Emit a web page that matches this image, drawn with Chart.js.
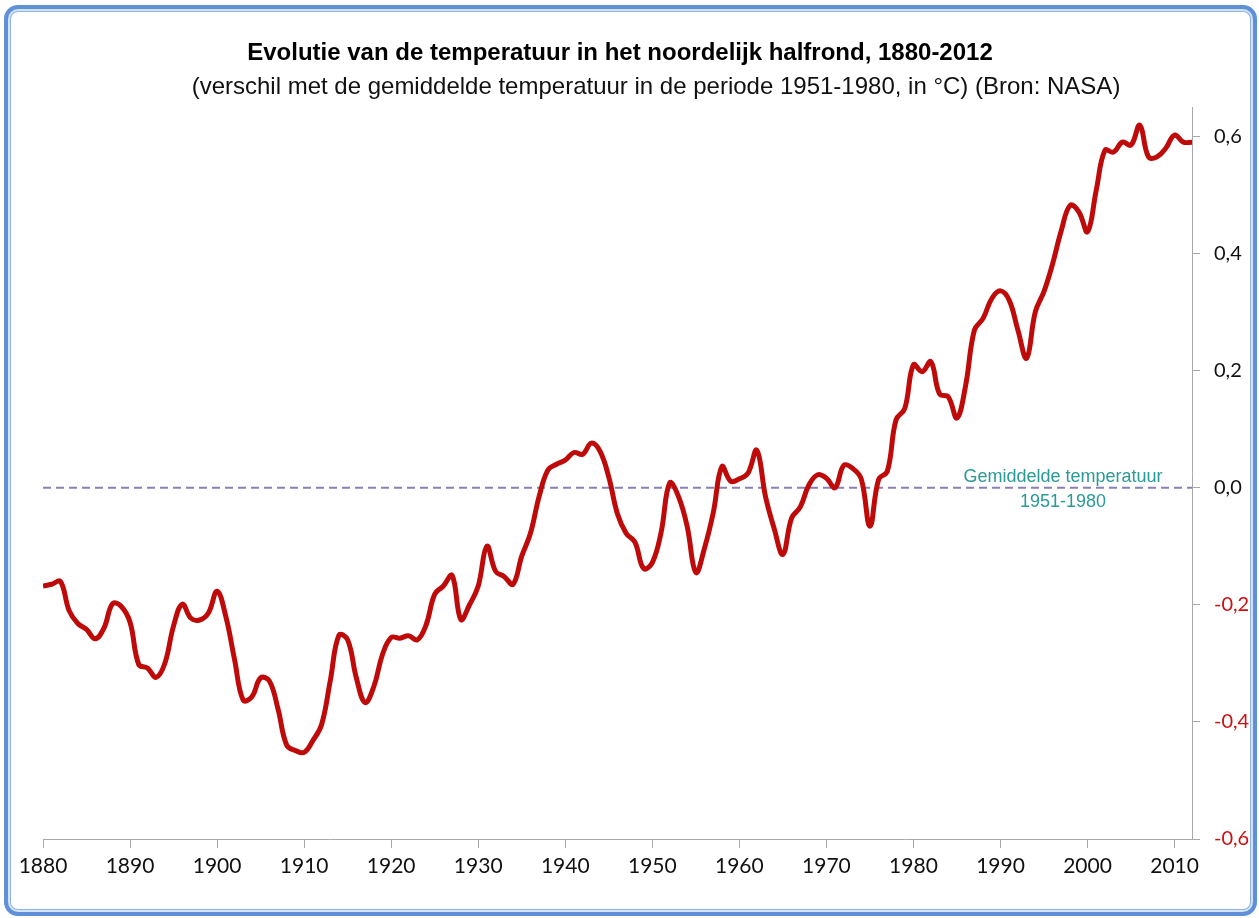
<!DOCTYPE html>
<html>
<head>
<meta charset="utf-8">
<script src="https://cdn.jsdelivr.net/npm/chart.js@4.4.1/dist/chart.umd.min.js"></script>
<style>
  html, body { margin: 0; padding: 0; background: #ffffff; }
  #wrap { position: relative; width: 1259px; height: 918px; overflow: hidden; }
  #c { position: absolute; left: 0; top: 0; }
  #frame {
    position: absolute; left: 4px; top: 5px; width: 1245px; height: 903px;
    border: 4px solid #5f90d8; border-radius: 14px;
    box-shadow: inset 0 0 0 2px #d3e3f7, inset 0 0 0 3px #8fb5e6;
    pointer-events: none;
  }
</style>
</head>
<body>
<div id="wrap">
  <canvas id="c" width="1259" height="918"></canvas>
  <div id="frame"></div>
</div>
<script>
const years = [];
for (let y = 1880; y <= 2012; y++) years.push(y);

const anomalies = [
  -0.168, -0.165, -0.160, -0.210, -0.232, -0.242, -0.258, -0.240, -0.198, -0.203, // 1880-1889
  -0.230, -0.302, -0.308, -0.324, -0.300, -0.236, -0.199, -0.223, -0.226, -0.214, // 1890-1899
  -0.177, -0.220, -0.293, -0.363, -0.357, -0.325, -0.330, -0.378, -0.440, -0.449, // 1900-1909
  -0.452, -0.432, -0.405, -0.330, -0.252, -0.260, -0.325, -0.367, -0.340, -0.285, // 1910-1919
  -0.256, -0.257, -0.253, -0.260, -0.235, -0.182, -0.168, -0.150, -0.225, -0.200, // 1920-1929
  -0.168, -0.100, -0.143, -0.152, -0.165, -0.117, -0.078, -0.015,  0.030,  0.040, // 1930-1939
   0.047,  0.060,  0.057,  0.076,  0.062,  0.018, -0.045, -0.078, -0.093, -0.138, // 1940-1949
  -0.128, -0.077,  0.008, -0.015, -0.066, -0.145, -0.103, -0.043,  0.036,  0.011, // 1950-1959
   0.015,  0.025,  0.064, -0.015, -0.070, -0.114, -0.052, -0.033,  0.005,  0.022, // 1960-1969
   0.016,  0.000,  0.038,  0.033,  0.015, -0.066,  0.014,  0.028,  0.116,  0.135, // 1970-1979
   0.210,  0.198,  0.215,  0.160,  0.155,  0.119,  0.175,  0.269,  0.289,  0.323, // 1980-1989
   0.336,  0.320,  0.269,  0.221,  0.300,  0.335,  0.383,  0.440,  0.482,  0.471, // 1990-1999
   0.437,  0.508,  0.576,  0.573,  0.590,  0.585,  0.619,  0.565,  0.565,  0.580, // 2000-2009
   0.602,  0.590,  0.590                                                          // 2010-2012
];

const baselineYears = [1880, 2012];
const baselineValues = [0, 0];

const xTickValues = [1880, 1890, 1900, 1910, 1920, 1930, 1940, 1950, 1960, 1970, 1980, 1990, 2000, 2010];
const yTickValues = [-0.6, -0.4, -0.2, 0, 0.2, 0.4, 0.6];

const titleText = 'Evolutie van de temperatuur in het noordelijk halfrond, 1880-2012';
const subtitleText = '(verschil met de gemiddelde temperatuur in de periode 1951-1980, in \u00B0C) (Bron: NASA)';
const annotationLines = ['Gemiddelde temperatuur', '1951-1980'];

const textPlugin = {
  id: 'texts',
  afterDraw(chart) {
    const ctx = chart.ctx;
    ctx.save();
    ctx.textAlign = 'center';
    ctx.textBaseline = 'alphabetic';
    ctx.fillStyle = '#000000';
    ctx.font = 'bold 24px "Liberation Sans", Arial, sans-serif';
    ctx.fillText(titleText, 620, 60);
    ctx.fillStyle = '#111111';
    ctx.font = '24px "Liberation Sans", Arial, sans-serif';
    ctx.fillText(subtitleText, 656, 94);
    const y0 = chart.scales.y.getPixelForValue(0);
    ctx.fillStyle = '#2a9a94';
    ctx.font = '18px "Liberation Sans", Arial, sans-serif';
    ctx.fillText(annotationLines[0], 1063, y0 - 6);
    ctx.fillText(annotationLines[1], 1063, y0 + 19);
    ctx.restore();
  }
};

new Chart(document.getElementById('c'), {
  type: 'line',
  data: {
    datasets: [
      {
        data: years.map((y, i) => ({ x: y, y: anomalies[i] })),
        borderColor: '#bf0a0a',
        borderWidth: 5,
        pointRadius: 0,
        tension: 0.4,
        fill: false,
        order: 1
      },
      {
        data: baselineYears.map((y, i) => ({ x: y, y: baselineValues[i] })),
        borderColor: '#8a80b6',
        borderWidth: 2,
        borderDash: [8, 5],
        pointRadius: 0,
        tension: 0,
        fill: false,
        order: 2
      }
    ]
  },
  options: {
    responsive: false,
    animation: false,
    layout: { padding: { left: 43, top: 107, right: 0, bottom: 0 } },
    plugins: { legend: { display: false }, tooltip: { enabled: false }, title: { display: false } },
    scales: {
      x: {
        type: 'linear',
        position: 'bottom',
        min: 1880,
        max: 2012,
        afterBuildTicks(scale) { scale.ticks = xTickValues.map(v => ({ value: v })); },
        afterFit(scale) { scale.height = 79; },
        grid: { drawOnChartArea: false, drawTicks: true, tickLength: 9, color: '#a8a8a8', lineWidth: 1 },
        border: { display: true, color: '#a8a8a8', width: 1 },
        ticks: {
          autoSkip: false,
          maxRotation: 0,
          padding: 6,
          color: '#111111',
          font: { family: 'Lato, "Open Sans", sans-serif', size: 21 },
          callback: v => String(v)
        }
      },
      y: {
        type: 'linear',
        position: 'right',
        min: -0.6,
        max: 0.65,
        afterBuildTicks(scale) { scale.ticks = yTickValues.map(v => ({ value: v })); },
        afterFit(scale) { scale.width = 67; },
        grid: { drawOnChartArea: false, drawTicks: true, tickLength: 8, color: '#a8a8a8', lineWidth: 1 },
        border: { display: true, color: '#a8a8a8', width: 1 },
        ticks: {
          padding: 14,
          color: c => (c.tick && c.tick.value < 0 ? '#cc0f0f' : '#111111'),
          font: { family: 'Lato, "Open Sans", sans-serif', size: 20 },
          callback: v => Number(v).toFixed(1).replace('.', ',')
        }
      }
    }
  },
  plugins: [textPlugin]
});
</script>
</body>
</html>
